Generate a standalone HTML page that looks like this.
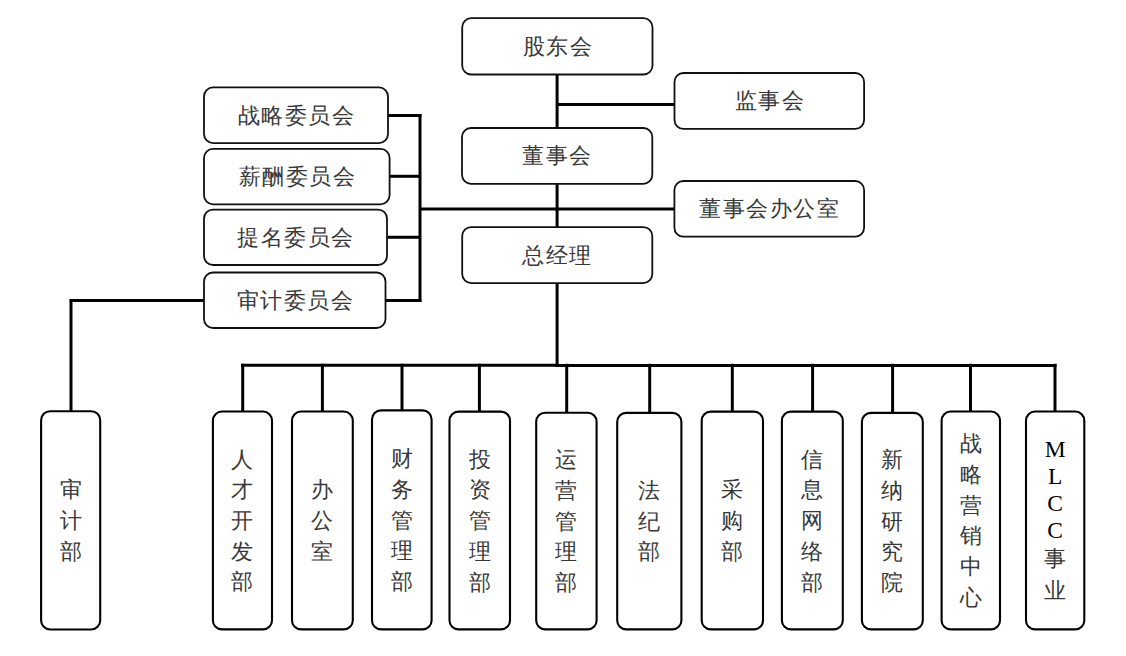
<!DOCTYPE html>
<html><head><meta charset="utf-8"><title>组织架构图</title>
<style>
html,body{margin:0;padding:0;background:#fff;width:1126px;height:656px;overflow:hidden}
body{position:relative;font-family:"Liberation Serif",serif;color:#383838}
svg{position:absolute;left:0;top:0}
.h,.v{position:absolute;display:flex;align-items:center;justify-content:center;white-space:nowrap}
.h{font-size:22px;letter-spacing:1.5px;line-height:1;padding:1px 0 0 1px;box-sizing:border-box}
.v p{margin:0;display:flex;flex-direction:column;align-items:center;position:relative;top:1px}
.v span{display:block;font-size:22px;line-height:30.7px;height:30.7px}
.v span.l{font-size:23.5px;line-height:27px;height:27px;color:#000}
</style></head><body>
<svg width="1126" height="656" viewBox="0 0 1126 656">
<g stroke="#000" stroke-width="3.0" fill="none">
<line x1="557.1" y1="74" x2="557.1" y2="366.5"/>
<line x1="557.1" y1="104.6" x2="674.5" y2="104.6"/>
<line x1="420.0" y1="209.0" x2="674.4" y2="209.0"/>
<line x1="420.0" y1="114.0" x2="420.0" y2="301.9"/>
<line x1="388.0" y1="115.5" x2="421.5" y2="115.5"/>
<line x1="389.6" y1="176.3" x2="420.0" y2="176.3"/>
<line x1="387.0" y1="237.3" x2="420.0" y2="237.3"/>
<line x1="385.5" y1="300.4" x2="421.5" y2="300.4"/>
<line x1="69.5" y1="300.4" x2="204.0" y2="300.4"/>
<line x1="71.0" y1="300.4" x2="71.0" y2="411.2"/>
<line x1="241.2" y1="365.25" x2="558.0" y2="365.25"/>
<line x1="555.6" y1="365.6" x2="1056.5" y2="365.6"/>
<line x1="242.7" y1="363.8" x2="242.7" y2="411.5"/>
<line x1="322.4" y1="363.8" x2="322.4" y2="411.5"/>
<line x1="402.0" y1="363.8" x2="402.0" y2="410.4"/>
<line x1="479.4" y1="363.8" x2="479.4" y2="411.6"/>
<line x1="566.7" y1="363.8" x2="566.7" y2="412.7"/>
<line x1="649.7" y1="363.8" x2="649.7" y2="412.9"/>
<line x1="732.3" y1="363.8" x2="732.3" y2="411.6"/>
<line x1="812.6" y1="363.8" x2="812.6" y2="411.6"/>
<line x1="892.6" y1="363.8" x2="892.6" y2="412.9"/>
<line x1="970.5" y1="363.8" x2="970.5" y2="411.5"/>
<line x1="1055.0" y1="363.8" x2="1055.0" y2="411.5"/>
</g>
<g stroke="#111" stroke-width="1.8" fill="#fff">
<rect x="462.2" y="18.2" width="190.3" height="56.3" rx="9" ry="9"/>
<rect x="674.5" y="73.0" width="189.6" height="55.9" rx="9" ry="9"/>
<rect x="462.0" y="128.0" width="190.3" height="55.8" rx="9" ry="9"/>
<rect x="674.4" y="181.0" width="189.7" height="55.7" rx="9" ry="9"/>
<rect x="462.2" y="227.1" width="190.1" height="56.0" rx="9" ry="9"/>
<rect x="204.0" y="87.4" width="184.0" height="55.7" rx="9" ry="9"/>
<rect x="204.0" y="148.9" width="185.6" height="55.4" rx="9" ry="9"/>
<rect x="204.0" y="209.6" width="183.0" height="55.4" rx="9" ry="9"/>
<rect x="204.0" y="272.5" width="181.5" height="55.5" rx="9" ry="9"/>
</g>
<g stroke="#000" stroke-width="2.1" fill="#fff">
<rect x="41.1" y="411.2" width="59.1" height="218.3" rx="9" ry="9"/>
<rect x="212.9" y="411.5" width="59.1" height="217.9" rx="9" ry="9"/>
<rect x="292.0" y="411.5" width="60.8" height="217.9" rx="9" ry="9"/>
<rect x="372.0" y="410.4" width="59.6" height="219.0" rx="9" ry="9"/>
<rect x="449.5" y="411.6" width="60.5" height="217.8" rx="9" ry="9"/>
<rect x="536.2" y="412.7" width="60.4" height="216.7" rx="9" ry="9"/>
<rect x="617.2" y="412.9" width="64.2" height="216.5" rx="9" ry="9"/>
<rect x="701.7" y="411.6" width="61.3" height="217.8" rx="9" ry="9"/>
<rect x="781.9" y="411.6" width="60.9" height="217.8" rx="9" ry="9"/>
<rect x="861.9" y="412.9" width="60.9" height="216.5" rx="9" ry="9"/>
<rect x="941.6" y="411.5" width="58.4" height="217.9" rx="9" ry="9"/>
<rect x="1026.0" y="411.5" width="58.3" height="217.9" rx="9" ry="9"/>
</g>
</svg>
<div class="h" style="left:462.2px;top:18.2px;width:190.3px;height:56.3px">股东会</div>
<div class="h" style="left:674.5px;top:73.0px;width:189.6px;height:55.9px">监事会</div>
<div class="h" style="left:462.0px;top:128.0px;width:190.3px;height:55.8px">董事会</div>
<div class="h" style="left:674.4px;top:181.0px;width:189.7px;height:55.7px">董事会办公室</div>
<div class="h" style="left:462.2px;top:227.1px;width:190.1px;height:56.0px">总经理</div>
<div class="h" style="left:204.0px;top:87.4px;width:184.0px;height:55.7px">战略委员会</div>
<div class="h" style="left:204.0px;top:148.9px;width:185.6px;height:55.4px">薪酬委员会</div>
<div class="h" style="left:204.0px;top:209.6px;width:183.0px;height:55.4px">提名委员会</div>
<div class="h" style="left:204.0px;top:272.5px;width:181.5px;height:55.5px">审计委员会</div>
<div class="v" style="left:41.1px;top:411.2px;width:59.1px;height:218.3px"><p><span>审</span><span>计</span><span>部</span></p></div>
<div class="v" style="left:212.9px;top:411.5px;width:59.1px;height:217.9px"><p><span>人</span><span>才</span><span>开</span><span>发</span><span>部</span></p></div>
<div class="v" style="left:292.0px;top:411.5px;width:60.8px;height:217.9px"><p><span>办</span><span>公</span><span>室</span></p></div>
<div class="v" style="left:372.0px;top:410.4px;width:59.6px;height:219.0px"><p><span>财</span><span>务</span><span>管</span><span>理</span><span>部</span></p></div>
<div class="v" style="left:449.5px;top:411.6px;width:60.5px;height:217.8px"><p><span>投</span><span>资</span><span>管</span><span>理</span><span>部</span></p></div>
<div class="v" style="left:536.2px;top:412.7px;width:60.4px;height:216.7px"><p><span>运</span><span>营</span><span>管</span><span>理</span><span>部</span></p></div>
<div class="v" style="left:617.2px;top:412.9px;width:64.2px;height:216.5px"><p><span>法</span><span>纪</span><span>部</span></p></div>
<div class="v" style="left:701.7px;top:411.6px;width:61.3px;height:217.8px"><p><span>采</span><span>购</span><span>部</span></p></div>
<div class="v" style="left:781.9px;top:411.6px;width:60.9px;height:217.8px"><p><span>信</span><span>息</span><span>网</span><span>络</span><span>部</span></p></div>
<div class="v" style="left:861.9px;top:412.9px;width:60.9px;height:216.5px"><p><span>新</span><span>纳</span><span>研</span><span>究</span><span>院</span></p></div>
<div class="v" style="left:941.6px;top:411.5px;width:58.4px;height:217.9px"><p><span>战</span><span>略</span><span>营</span><span>销</span><span>中</span><span>心</span></p></div>
<div class="v" style="left:1026.0px;top:411.5px;width:58.3px;height:217.9px"><p style="top:0"><span class="l">M</span><span class="l">L</span><span class="l">C</span><span class="l">C</span><span>事</span><span style="position:relative;top:1.5px">业</span></p></div>
</body></html>
